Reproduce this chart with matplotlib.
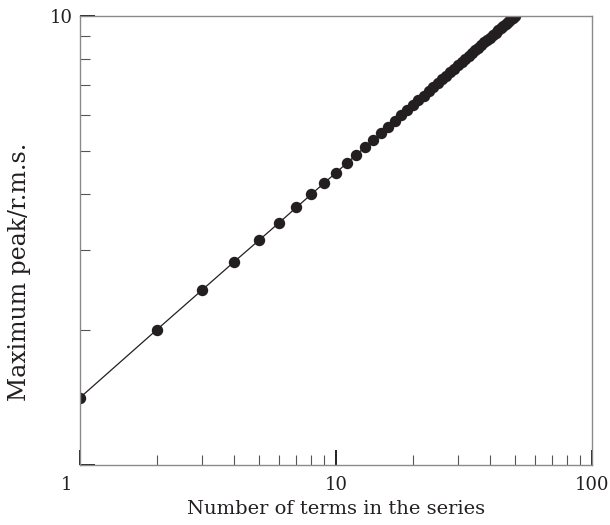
import matplotlib
matplotlib.use("Agg")
import matplotlib.pyplot as plt
from matplotlib.ticker import LogLocator, NullFormatter, FixedFormatter, FixedLocator
from matplotlib.transforms import offset_copy

# Number of equal-amplitude terms summed in phase
n_terms = [
    1, 2, 3, 4, 5, 6, 7, 8, 9, 10,
    11, 12, 13, 14, 15, 16, 17, 18, 19, 20,
    21, 22, 23, 24, 25, 26, 27, 28, 29, 30,
    31, 32, 33, 34, 35, 36, 37, 38, 39, 40,
    41, 42, 43, 44, 45, 46, 47, 48, 49, 50,
]
# Ratio of maximum peak to r.m.s. value
peak_rms = [
    1.41, 2.00, 2.45, 2.83, 3.16, 3.46, 3.74, 4.00, 4.24, 4.47,
    4.69, 4.90, 5.10, 5.29, 5.48, 5.66, 5.83, 6.00, 6.16, 6.32,
    6.48, 6.63, 6.78, 6.93, 7.07, 7.21, 7.35, 7.48, 7.62, 7.75,
    7.87, 8.00, 8.12, 8.25, 8.37, 8.49, 8.60, 8.72, 8.83, 8.94,
    9.06, 9.17, 9.27, 9.38, 9.49, 9.59, 9.70, 9.80, 9.90, 10.00,
]

x_ticks = [1, 10, 100]
x_tick_labels = ["", "10", "100"]
y_ticks = [1, 10]
y_tick_labels = ["", "10"]

INK = "#231f20"
SPINE = "#8a8a8a"

plt.rcParams["font.family"] = ["DejaVu Serif"]

fig = plt.figure(figsize=(6.10, 5.25), dpi=100)
ax = fig.add_axes([0.1311, 0.1149, 0.8394, 0.8552])

ax.plot(n_terms, peak_rms, color=INK, lw=0.9, marker="o", ms=7.2,
        mfc=INK, mec=INK, solid_capstyle="round")

ax.set_xscale("log")
ax.set_yscale("log")
ax.set_xlim(1, 100)
ax.set_ylim(1, 10)

ax.xaxis.set_major_locator(FixedLocator(x_ticks))
ax.xaxis.set_major_formatter(FixedFormatter(x_tick_labels))
ax.yaxis.set_major_locator(FixedLocator(y_ticks))
ax.yaxis.set_major_formatter(FixedFormatter(y_tick_labels))
for axis in (ax.xaxis, ax.yaxis):
    axis.set_minor_locator(LogLocator(base=10, subs=range(2, 10)))
    axis.set_minor_formatter(NullFormatter())

ax.tick_params(which="major", direction="in", length=10.5, width=1.4,
               color=INK, labelsize=13, labelcolor=INK)
ax.tick_params(axis="x", which="major", pad=8)
ax.tick_params(axis="y", which="major", pad=5)
ax.tick_params(which="minor", direction="in", length=7, width=0.8, color="#555555")

for side in ("left", "bottom", "top", "right"):
    ax.spines[side].set_color(SPINE)
    ax.spines[side].set_linewidth(1.0)

# the shared "1" sits below-left of the origin corner
corner = offset_copy(ax.transData, fig=fig, x=-9.4, y=-8.5, units="points")
ax.text(1, 1, "1", transform=corner, ha="center", va="top",
        fontsize=13, color=INK)

ax.set_xlabel("Number of terms in the series", fontsize=14, color=INK)
ax.set_ylabel("Maximum peak/r.m.s.", fontsize=17, color=INK)
ax.xaxis.set_label_coords(0.5, -0.078)
ax.yaxis.set_label_coords(-0.096, 0.429)

fig.savefig("out.png", dpi=100)
